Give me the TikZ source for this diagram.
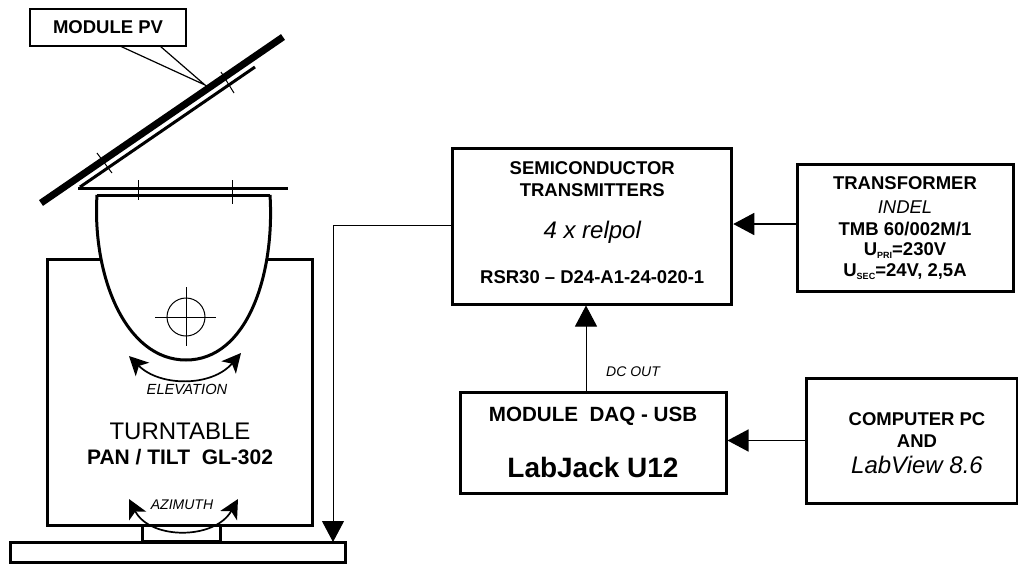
\documentclass[tikz,border=0pt]{standalone}
\usepackage{fontspec}
\setmainfont{Liberation Sans}
\usetikzlibrary{arrows.meta}
\tikzset{
  box/.style={draw,line width=3pt,inner sep=0pt,align=center,font=\bfseries\fontsize{18.5}{22}\selectfont},
  thickline/.style={line width=3pt},
  thinline/.style={line width=1pt},
  bigtip/.style={-{Triangle[length=21pt,width=22pt]}},
  turntip/.style={{Stealth[length=19pt,width=19pt,inset=5pt]}-{Stealth[length=19pt,width=19pt,inset=5pt]},line width=1.7pt},
  note/.style={font=\itshape\fontsize{14}{16}\selectfont,inner sep=0pt}
}
\newcommand{\lowtext}[1]{\raisebox{-3pt}{\fontsize{9}{9}\selectfont #1}}
\begin{document}
\begin{tikzpicture}[x=1pt,y=-1pt]
        \useasboundingbox (0,0) rectangle (1018,563);
        \node[draw,line width=1.2pt,minimum width=156pt,minimum height=37pt,inner sep=0pt,font=\bfseries\fontsize{18.5}{20}\selectfont] (pvlabel) at (108,27.5) {MODULE PV};
        \coordinate (pvtip) at (205,85);
        \draw[line width=1.2pt] (120,46)--(pvtip)--(160,46);
        \draw[line width=7pt] (41,203)--(283,37);
        \draw[thickline] (80,187)--(255,67);
        \draw[line width=1pt] (97,153)--(112,173);
        \draw[line width=1pt] (221,72)--(234,93);
        \draw[thickline] (78,188)--(288,188);
        \draw[line width=1pt] (138,180)--(138,200);
        \draw[line width=1pt] (232.5,180)--(232.5,204);
        \draw[thickline] (100,259)--(47.5,259)--(47.5,525)--(312,525)--(312,259)--(267,259);
        \draw[thickline] (97,195)--(270,195);
        \draw[thickline] (97,195) .. controls (92,275) and (125,360) .. (186,360) .. controls (247,360) and (275,275) .. (270,195);
        \draw[thinline] (186,317) circle (19);
        \draw[thinline] (155,317)--(216,317);
        \draw[thinline] (186,287)--(186,346);
        \draw[turntip] (129,356) .. controls (160,387) and (212,387) .. (241,353);
        \node[note,font=\itshape\fontsize{14.7}{16}\selectfont] (elevation) at (187,389) {ELEVATION};
        \node[inner sep=0pt,font=\fontsize{24}{26}\selectfont] (turntable) at (180,431) {TURNTABLE};
        \node[inner sep=0pt,font=\bfseries\fontsize{21}{23}\selectfont] (pantilt) at (180,457) {PAN / TILT\ \ GL-302};
        \node[note] (azimuth) at (182,505) {AZIMUTH};
        \draw[thickline] (142,525) rectangle (220,541.5);
        \draw[turntip] (129,499) .. controls (150,540) and (215,540) .. (238,499);
        \draw[thickline] (345,562) -- (345,542) -- (10,542) -- (10,562) -- cycle;
        \node[box,minimum width=279pt,minimum height=156pt] (semi) at (592.25,226) {SEMICONDUCTOR\\TRANSMITTERS\\[20pt]{\mdseries\itshape\fontsize{24}{26}\selectfont 4 x relpol}\\[23pt]RSR30 -- D24-A1-24-020-1\\[-15pt]};
        \node[box,minimum width=216pt,minimum height=127pt,font=\bfseries\fontsize{18.5}{21}\selectfont] (transformer) at (905,227.5) {TRANSFORMER\\[3pt]{\mdseries\itshape INDEL}\\[1pt]TMB 60/002M/1\\[-1pt]U\lowtext{PRI}=230V\\U\lowtext{SEC}=24V, 2,5A\\[-19pt]};
        \node[box,minimum width=266pt,minimum height=101pt,font=\bfseries\fontsize{20.6}{22}\selectfont] (daq) at (593,442.5) {MODULE\ \ DAQ - USB\\[30pt]{\fontsize{28}{30}\selectfont LabJack U12}};
        \node[box,minimum width=211.5pt,minimum height=125pt] (pc) at (911.75,440.5) {};
        \node[inner sep=0pt,align=center,font=\bfseries\fontsize{18.5}{22}\selectfont] (pclabel) at (917,443) {COMPUTER PC\\AND\\[4pt]{\mdseries\itshape\fontsize{24}{26}\selectfont LabView 8.6}};
        \coordinate (turntip) at (333,542);
        \draw[thinline,bigtip] ([yshift=1pt]semi.west) -| (turntip);
        \draw[line width=1.5pt,bigtip] ([yshift=3.5pt]transformer.west) -- ([yshift=2pt]semi.east);
        \draw[line width=1.5pt,bigtip] (pc.west) -- (daq.east |- pc.west);
        \draw[thinline,bigtip] ([xshift=-7pt]daq.north) -- ([xshift=-7pt]daq.north |- semi.south);
        \node[note] (dcout) at (633,372) {DC OUT};
        \end{tikzpicture}
\end{document}
